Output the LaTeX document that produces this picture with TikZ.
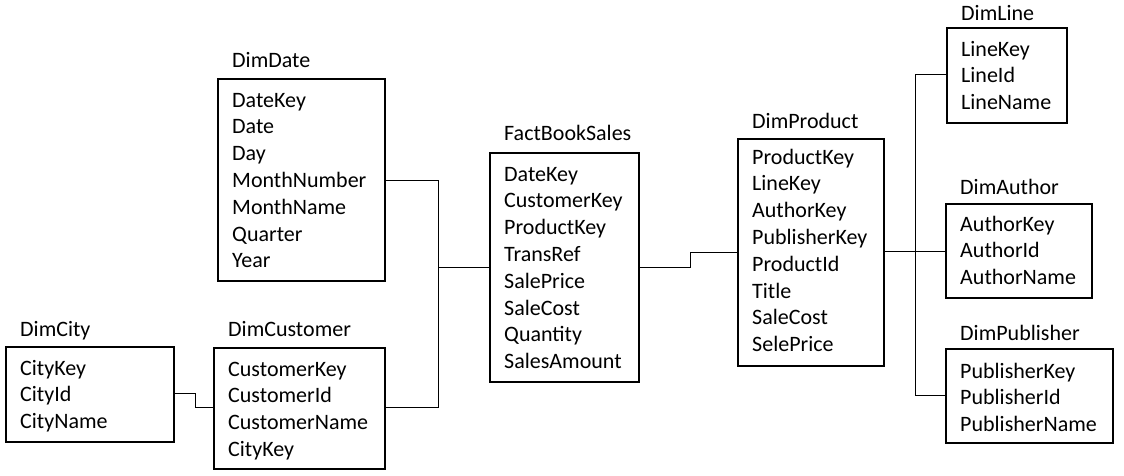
\documentclass[tikz,border=0pt]{standalone}
\usepackage{fontspec}
\setmainfont{Carlito}
\usetikzlibrary{fit}
\tikzset{
  tbox/.style={draw, line width=2pt, inner sep=0pt},
  ttitle/.style={anchor=base west, inner sep=0pt, font=\fontsize{22}{26.8}\selectfont},
  tfields/.style={anchor=base west, inner sep=0pt},
  conn/.style={draw, line width=1pt}
}
% #1 name, #2 left, #3 top, #4 right, #5 bottom, #6 title, #7 fields, #8 title offset, #9 first-baseline offset
\newcommand\dbt[9]{%
  \node[tbox, fit={(#2,#3)(#4,#5)}] (#1) {};
  \node[ttitle] (t#1) at (#2+14,#3-#8) {#6};
  \node[tfields] (f#1) at (#2+14,#3+#9) {\parbox[t]{200pt}{\fontsize{22}{26.8}\selectfont #7}};
}
\begin{document}
\begin{tikzpicture}[x=1pt,y=-1pt]
\useasboundingbox (0,0) rectangle (1124,475);
\dbt{DimDate}{218}{79}{385}{281}{DimDate}{DateKey\\Date\\Day\\MonthNumber\\MonthName\\Quarter\\Year}{12}{28}
\dbt{DimCity}{6}{347}{174}{442}{DimCity}{CityKey\\CityId\\CityName}{11}{28}
\dbt{DimCustomer}{214}{348}{385}{469}{DimCustomer}{CustomerKey\\CustomerId\\CustomerName\\CityKey}{12}{28}
\dbt{Fact}{490}{153}{639}{382}{FactBookSales}{DateKey\\CustomerKey\\ProductKey\\TransRef\\SalePrice\\SaleCost\\Quantity\\SalesAmount}{13}{28}
\dbt{DimProduct}{738}{139}{884}{366}{DimProduct}{ProductKey\\LineKey\\AuthorKey\\PublisherKey\\ProductId\\Title\\SaleCost\\SelePrice}{11}{25}
\dbt{DimLine}{947}{28}{1067}{123}{DimLine}{LineKey\\LineId\\LineName}{8}{28}
\dbt{DimAuthor}{946}{204}{1092}{298}{DimAuthor}{AuthorKey\\AuthorId\\AuthorName}{10}{27}
\dbt{DimPublisher}{946}{349}{1113}{443}{DimPublisher}{PublisherKey\\PublisherId\\PublisherName}{9}{29}
% connectors
\draw[conn] ([yshift=-102pt]DimDate.north east) -| ([xshift=-51pt,yshift=-115pt]Fact.north west) -- ([yshift=-115pt]Fact.north west);
\draw[conn] ([yshift=-60pt]DimCustomer.north east) -| ([xshift=-51pt,yshift=-115pt]Fact.north west);
\draw[conn] ([yshift=-47pt]DimCity.north east) -- ++(20,0) |- ([yshift=-60pt]DimCustomer.north west);
\draw[conn] ([yshift=-115pt]Fact.north east) -- ++(50,0) |- ([yshift=-114pt]DimProduct.north west);
\draw[conn] ([yshift=-113pt]DimProduct.north east) -- ([yshift=-48pt]DimAuthor.north west);
\draw[conn] ([yshift=-47pt]DimLine.north west) -| ([xshift=-30pt,yshift=-47pt]DimPublisher.north west) -- ([yshift=-47pt]DimPublisher.north west);
\end{tikzpicture}
\end{document}
